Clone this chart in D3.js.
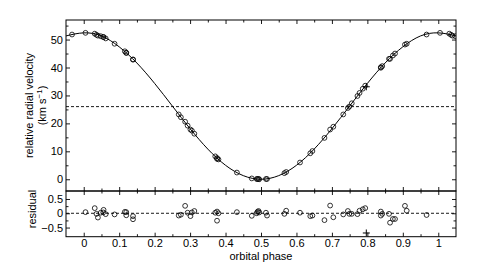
<!DOCTYPE html>
<html>
<head>
  <meta charset="utf-8">
  <script src="https://d3js.org/d3.v7.min.js"></script>
  <style>
  html, body { margin: 0; padding: 0; background: #fff; }
  svg { display: block; }
  text { font-family: "Liberation Sans", Arial, sans-serif; font-size: 11px; fill: #000; }
  .tick line, .domain { stroke: #000; }
  </style>
</head>
<body>
<svg id="chart" width="504" height="266"></svg>
<script>

// model curve, every 0.05 in phase
var curvePhase = [-0.05, 0, 0.05, 0.1, 0.15, 0.2, 0.25, 0.3, 0.35, 0.4, 0.45, 0.5,
                  0.55, 0.6, 0.65, 0.7, 0.75, 0.8, 0.85, 0.9, 0.95, 1.0, 1.05];
var curveVel   = [51.3, 52.4, 51.3, 47.4, 41.6, 34.3, 26.2, 18.1, 10.8, 5.0, 1.3, 0.0,
                  1.3, 5.0, 10.8, 18.1, 26.2, 34.3, 41.6, 47.4, 51.3, 52.4, 51.3];

// observations: phase, relative RV (km/s), residual
var obsPhase = [0.005, 0.031, 0.036, 0.040, 0.048, 0.055, 0.056, 0.062, 0.087, 0.116,
                0.120, 0.120, 0.139, 0.139, 0.268, 0.274, 0.286, 0.293, 0.301, 0.305,
                0.312, 0.371, 0.376, 0.380, 0.376, 0.432, 0.474, 0.488, 0.490, 0.493,
                0.495, 0.514, 0.517, 0.566, 0.571, 0.610, 0.639, 0.645, 0.679, 0.695,
                0.704, 0.732, 0.745, 0.749, 0.756, 0.772, 0.778, 0.787, 0.794, 0.838,
                0.842, 0.838, 0.861, 0.864, 0.872, 0.878, 0.906, 0.911, 0.967];
var obsVel   = [52.4, 52.1, 51.7, 51.4, 51.2, 50.9, 50.9, 50.4, 48.5, 45.8,
                45.3, 45.2, 42.9, 42.8, 23.2, 22.2, 20.6, 19.2, 17.8, 17.4,
                16.3, 8.2, 7.6, 7.1, 7.3, 2.4, 0.3, 0.1, 0.1, 0.1,
                0.0, 0.1, 0.1, 2.2, 2.6, 6.0, 9.3, 10.1, 14.8, 17.8,
                18.8, 23.2, 25.5, 26.0, 27.2, 29.8, 30.9, 32.4, 33.5, 40.1,
                40.5, 39.9, 43.1, 43.1, 44.3, 45.0, 48.2, 48.5, 51.8];
var obsRes   = [0.04, 0.18, -0.02, -0.15, 0.02, 0.03, 0.12, -0.03, -0.04, 0.05,
                0.04, -0.07, -0.10, -0.21, -0.08, -0.05, 0.26, 0.02, -0.10, 0.03,
                0.08, 0.02, 0.06, 0.00, -0.26, 0.04, -0.09, 0.00, 0.05, 0.08,
                0.03, 0.02, -0.08, -0.02, 0.09, 0.02, -0.10, -0.08, -0.24, 0.27,
                -0.14, -0.04, 0.08, -0.02, -0.02, -0.03, 0.09, 0.14, 0.18, 0.06,
                -0.02, -0.08, -0.02, -0.33, -0.20, -0.20, 0.26, 0.09, -0.06];

// rejected point (plus sign)
var rejPhase = [0.797];
var rejVel   = [33.1];
var rejRes   = [-0.69];

var systemic = 26.0;

var xTicks = [0, 0.1, 0.2, 0.3, 0.4, 0.5, 0.6, 0.7, 0.8, 0.9, 1];
var xMinor = [0.05, 0.15, 0.25, 0.35, 0.45, 0.55, 0.65, 0.75, 0.85, 0.95];
var vTicks = [0, 10, 20, 30, 40, 50];
var vMinor = [5, 15, 25, 35, 45, 55];
var rTicks = [-0.5, 0, 0.5];
var rMinor = [-0.25, 0.25];

var L = 66, R = 456, T = 20, M = 191, B = 236.7;

var x = d3.scaleLinear().domain([-0.05, 1.05]).range([L, R]);
var yv = d3.scaleLinear().domain([-4.2, 57]).range([M, T]);
var yr = d3.scaleLinear().domain([-0.82, 0.78]).range([B, M]);

var svg = d3.select("#chart");

// clip for each panel
svg.append("clipPath").attr("id", "clipTop")
  .append("rect").attr("x", L).attr("y", T).attr("width", R - L).attr("height", M - T);
svg.append("clipPath").attr("id", "clipBot")
  .append("rect").attr("x", L).attr("y", M).attr("width", R - L).attr("height", B - M);

var gTop = svg.append("g").attr("clip-path", "url(#clipTop)");
var gBot = svg.append("g").attr("clip-path", "url(#clipBot)");

// systemic velocity and zero residual lines
gTop.append("line")
  .attr("x1", L).attr("x2", R).attr("y1", yv(systemic)).attr("y2", yv(systemic))
  .attr("stroke", "#000").attr("stroke-width", 0.9).attr("stroke-dasharray", "3,2");
gBot.append("line")
  .attr("x1", L).attr("x2", R).attr("y1", yr(0)).attr("y2", yr(0))
  .attr("stroke", "#000").attr("stroke-width", 0.9).attr("stroke-dasharray", "3,2");

// model curve
var line = d3.line()
  .x(function(d, i) { return x(curvePhase[i]); })
  .y(function(d) { return yv(d); })
  .curve(d3.curveNatural);
gTop.append("path").datum(curveVel)
  .attr("d", line).attr("fill", "none").attr("stroke", "#000").attr("stroke-width", 1);

// observations, repeated one cycle either side in upper panel
var upper = [];
obsPhase.forEach(function(p, i) {
  [-1, 0, 1].forEach(function(s) {
    if (p + s >= -0.05 && p + s <= 1.05) upper.push({p: p + s, v: obsVel[i]});
  });
});
gTop.selectAll("circle.obs").data(upper).enter().append("circle")
  .attr("class", "obs")
  .attr("cx", function(d) { return x(d.p); })
  .attr("cy", function(d) { return yv(d.v); })
  .attr("r", 2.4)
  .attr("fill", "none").attr("stroke", "#000").attr("stroke-width", 0.8);

gBot.selectAll("circle.res").data(obsPhase).enter().append("circle")
  .attr("class", "res")
  .attr("cx", function(d) { return x(d); })
  .attr("cy", function(d, i) { return yr(obsRes[i]); })
  .attr("r", 2.4)
  .attr("fill", "none").attr("stroke", "#000").attr("stroke-width", 0.8);

var plus = "M-3.5,0H3.5M0,-3.5V3.5";
gTop.selectAll("path.rej").data(rejPhase).enter().append("path")
  .attr("class", "rej").attr("d", plus)
  .attr("transform", function(d, i) { return "translate(" + x(d) + "," + yv(rejVel[i]) + ")"; })
  .attr("stroke", "#000").attr("stroke-width", 1);
gBot.selectAll("path.rej").data(rejPhase).enter().append("path")
  .attr("class", "rej").attr("d", plus)
  .attr("transform", function(d, i) { return "translate(" + x(d) + "," + yr(rejRes[i]) + ")"; })
  .attr("stroke", "#000").attr("stroke-width", 1);

// axes: ticks point inward
function ax(gen, scale, vals, size, tx, ty, labels, fmt) {
  var a = gen(scale).tickValues(vals).tickSize(size).tickPadding(3);
  if (!labels) a.tickFormat("");
  else if (fmt) a.tickFormat(fmt);
  var g = svg.append("g").attr("transform", "translate(" + tx + "," + ty + ")").call(a);
  g.select(".domain").remove();
  g.selectAll(".tick line").attr("stroke-width", 0.9);
  return g;
}
var xfmt = function(d) { return d3.format("")(Math.round(d * 10) / 10); };

// upper panel
ax(d3.axisTop, x, xTicks, -4, 0, T, false);
ax(d3.axisTop, x, xMinor, -2.5, 0, T, false);
ax(d3.axisBottom, x, xTicks, -4, 0, M, false);
ax(d3.axisBottom, x, xMinor, -2.5, 0, M, false);
ax(d3.axisLeft, yv, vTicks, -4, L, 0, true);
ax(d3.axisLeft, yv, vMinor, -2.5, L, 0, false);
ax(d3.axisRight, yv, vTicks, -4, R, 0, false);
ax(d3.axisRight, yv, vMinor, -2.5, R, 0, false);

// lower panel
ax(d3.axisTop, x, xTicks, -4, 0, M, false);
ax(d3.axisTop, x, xMinor, -2.5, 0, M, false);
ax(d3.axisBottom, x, xTicks, -4, 0, B, true, xfmt);
ax(d3.axisBottom, x, xMinor, -2.5, 0, B, false);
ax(d3.axisLeft, yr, rTicks, -4, L, 0, true, d3.format(".1~f"));
ax(d3.axisLeft, yr, rMinor, -2.5, L, 0, false);
ax(d3.axisRight, yr, rTicks, -4, R, 0, false);
ax(d3.axisRight, yr, rMinor, -2.5, R, 0, false);

svg.selectAll(".tick text").style("font-family", "'Liberation Sans', Arial, sans-serif")
  .style("font-size", "11px").attr("fill", "#000");

// frames
[[T, M], [M, B]].forEach(function(r) {
  svg.append("rect").attr("x", L).attr("y", r[0]).attr("width", R - L).attr("height", r[1] - r[0])
    .attr("fill", "none").attr("stroke", "#000").attr("stroke-width", 1);
});

// labels
var cy = (T + M) / 2;
svg.append("text").attr("text-anchor", "middle")
  .attr("transform", "translate(29," + cy + ") rotate(-90)").attr("dy", "0.35em")
  .text("relative radial velocity");
var ku = svg.append("text").attr("text-anchor", "middle")
  .attr("transform", "translate(42," + cy + ") rotate(-90)").attr("dy", "0.35em");
ku.append("tspan").text("(km s");
ku.append("tspan").attr("font-size", "8px").attr("dy", "-4").text("\u22121");
ku.append("tspan").attr("dy", "4").text(")");

svg.append("text").attr("text-anchor", "middle")
  .attr("transform", "translate(32,209) rotate(-90)").attr("dy", "0.35em")
  .text("residual");

svg.append("text").attr("text-anchor", "middle")
  .attr("x", x(0.5)).attr("y", 259.5)
  .text("orbital phase");

</script>
</body>
</html>
